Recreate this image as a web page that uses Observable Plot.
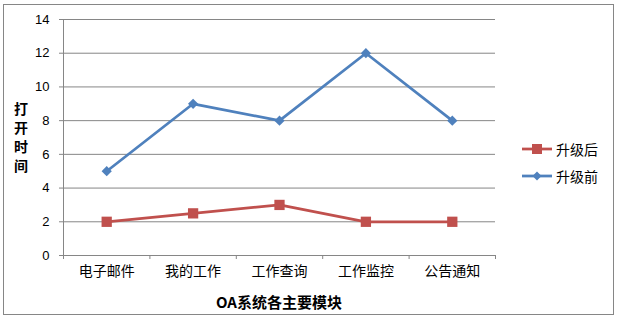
<!DOCTYPE html>
<html>
<head>
<meta charset="utf-8">
<script src="https://cdn.jsdelivr.net/npm/d3@7"></script>
<script src="https://cdn.jsdelivr.net/npm/@observablehq/plot@0.6"></script>
<style>
  body { margin: 0; background: #fff; }
  #wrap { position: relative; width: 618px; height: 320px; font-family: "Noto Sans CJK SC", "Noto Sans", sans-serif; }
  #border { position: absolute; left: 3px; top: 4px; width: 611px; height: 311px; border: 1px solid #868686; box-sizing: border-box; pointer-events: none; }
  #ytitle { position: absolute; left: 12px; top: 99px; width: 18px; font-weight: bold; font-size: 14px; line-height: 19px; text-align: center; color: #000; }
  #xtitle { position: absolute; left: 63px; width: 432px; top: 291px; text-align: center; font-weight: bold; font-size: 15px; color: #000; }
  #legend { position: absolute; left: 522px; top: 135px; font-size: 14px; color: #000; }
  .item { display: flex; align-items: center; height: 27px; }
  .item svg { margin-right: 4px; }
</style>
</head>
<body>
<div id="wrap">
  <div id="chart"></div>
  <div id="ytitle"></div>
  <div id="xtitle"></div>
  <div id="legend"></div>
  <div id="border"></div>
</div>
<script>
const categories = ["电子邮件", "我的工作", "工作查询", "工作监控", "公告通知"];
const afterUpgrade = [2, 2.5, 3, 2, 2];
const beforeUpgrade = [5, 9, 8, 12, 8];
const seriesNames = ["升级后", "升级前"];
const seriesColors = ["#C0504D", "#4F81BD"];
const yTicks = [0, 2, 4, 6, 8, 10, 12, 14];
const yTitle = "打开时间";
const xTitle = "OA系统各主要模块";

const rows = [];
categories.forEach((c, i) => {
  rows.push({series: seriesNames[0], idx: i + 0.5, value: afterUpgrade[i]});
  rows.push({series: seriesNames[1], idx: i + 0.5, value: beforeUpgrade[i]});
});
const after = rows.filter(d => d.series === seriesNames[0]);
const before = rows.filter(d => d.series === seriesNames[1]);
const boundaries = d3.range(0, categories.length + 1);
const centers = categories.map((c, i) => i + 0.5);

const chart = Plot.plot({
  width: 618,
  height: 320,
  marginLeft: 63,
  marginRight: 123,
  marginTop: 19,
  marginBottom: 65,
  style: {fontFamily: "Liberation Sans, Arial, sans-serif", fontSize: "13px", color: "#000", background: "transparent"},
  x: {domain: [0, categories.length], type: "linear"},
  y: {domain: [0, 14]},
  marks: [
    Plot.gridY(yTicks, {stroke: "#868686", strokeOpacity: 1}),
    Plot.ruleX([0], {stroke: "#868686"}),
    Plot.ruleY([0], {stroke: "#868686"}),
    Plot.axisY({ticks: yTicks, tickSize: 4, tickPadding: 10, label: null, stroke: "#868686", fill: "#000", fontSize: 13}),
    Plot.axisX({ticks: boundaries, tickSize: 4, tickFormat: () => "", label: null, stroke: "#868686"}),
    Plot.axisX({ticks: centers, tickSize: 0, tickPadding: 11, tickFormat: d => categories[Math.round(d - 0.5)], label: null,
      fontFamily: "Noto Sans CJK SC", fontSize: 14, fill: "#000"}),
    Plot.line(after, {x: "idx", y: "value", stroke: seriesColors[0], strokeWidth: 2.75}),
    Plot.line(before, {x: "idx", y: "value", stroke: seriesColors[1], strokeWidth: 2.75}),
    Plot.dot(after, {x: "idx", y: "value", symbol: "square", r: 5.8, fill: seriesColors[0], stroke: "none"}),
    Plot.dot(before, {x: "idx", y: "value", symbol: "diamond2", r: 4.6, fill: seriesColors[1], stroke: "none"})
  ]
});
document.getElementById("chart").appendChild(chart);

document.getElementById("ytitle").innerHTML = yTitle.split("").join("<br>");
document.getElementById("xtitle").textContent = xTitle;

const legend = document.getElementById("legend");
const markers = [
  '<rect x="10" y="1" width="10" height="10" fill="COLOR"/>',
  '<path d="M15 1.5 L19.5 6 L15 10.5 L10.5 6 Z" fill="COLOR"/>'
];
seriesNames.forEach((name, i) => {
  const div = document.createElement("div");
  div.className = "item";
  div.innerHTML = `<svg width="30" height="12"><line x1="0" x2="30" y1="6" y2="6" stroke="${seriesColors[i]}" stroke-width="2.75"/>${markers[i].replace("COLOR", seriesColors[i])}</svg><span>${name}</span>`;
  legend.appendChild(div);
});
</script>
</body>
</html>
